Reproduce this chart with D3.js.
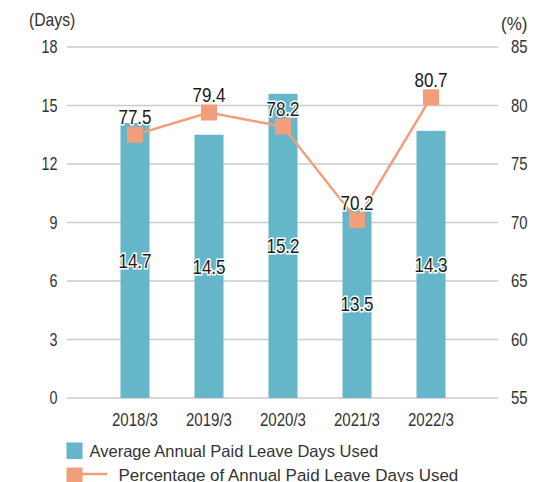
<!DOCTYPE html>
<html>
<head>
<meta charset="utf-8">
<script src="https://cdn.jsdelivr.net/npm/d3@7"></script>
<style>
body { margin: 0; background: #fff; }
text { font-family: "Liberation Sans", Arial, sans-serif; }
</style>
</head>
<body>
<div id="chart"></div>
<script>
// data
var categories = ["2018/3", "2019/3", "2020/3", "2021/3", "2022/3"];
var barHeights = [14.1, 13.5, 15.6, 9.7, 13.7];      // bar heights as drawn
var barLabels = ["14.7", "14.5", "15.2", "13.5", "14.3"]; // values printed on bars
var pctValues = [77.5, 79.4, 78.2, 70.2, 80.7];
var leftTicks = [0, 3, 6, 9, 12, 15, 18];
var rightTicks = [55, 60, 65, 70, 75, 80, 85];
var legendLabels = ["Average Annual Paid Leave Days Used", "Percentage of Annual Paid Leave Days Used"];

var W = 560, H = 482;
var barColor = "#65b6c9", lineColor = "#f29e7b", gridColor = "#cbcbcb";

var svg = d3.select("#chart").append("svg")
	.attr("width", W)
	.attr("height", H);

var x = d3.scalePoint().domain(categories).range([98, 468]).padding(0.5);
var yL = d3.scaleLinear().domain([0, 18]).range([398, 47]);
var yR = d3.scaleLinear().domain([55, 85]).range([398, 47]);

// squeeze text horizontally (the original uses a condensed face)
function squeeze(sel, sx, fx) {
	sel.attr("transform", "scale(" + sx + ",1)")
		.attr("x", function(d, i) { return fx(d, i) / sx; });
}

// grid lines
svg.selectAll(".grid")
	.data(leftTicks)
	.enter()
	.append("line")
		.attr("x1", 67)
		.attr("x2", 498)
		.attr("y1", function(d) { return yL(d); })
		.attr("y2", function(d) { return yL(d); })
		.attr("stroke", gridColor)
		.attr("stroke-width", 1.6);

// left axis labels
svg.selectAll(".lt")
	.data(leftTicks)
	.enter()
	.append("text")
		.attr("y", function(d) { return yL(d) + 6.5; })
		.attr("text-anchor", "end")
		.attr("font-size", 17.5)
		.attr("fill", "#333")
		.text(function(d) { return d; })
		.call(squeeze, 0.82, function() { return 57.5; });

// right axis labels
svg.selectAll(".rt")
	.data(rightTicks)
	.enter()
	.append("text")
		.attr("y", function(d) { return yR(d) + 6.5; })
		.attr("font-size", 17.5)
		.attr("fill", "#333")
		.text(function(d) { return d; })
		.call(squeeze, 0.85, function() { return 511; });

svg.append("text").attr("y", 26).attr("font-size", 17.5).attr("fill", "#333").text("(Days)")
	.call(squeeze, 0.9, function() { return 29; });
svg.append("text").attr("y", 30).attr("font-size", 17.5).attr("fill", "#333").text("(%)")
	.call(squeeze, 0.97, function() { return 501; });

// category labels
svg.selectAll(".xl")
	.data(categories)
	.enter()
	.append("text")
		.attr("y", 426.5)
		.attr("text-anchor", "middle")
		.attr("font-size", 17.5)
		.attr("fill", "#333")
		.text(function(d) { return d; })
		.call(squeeze, 0.86, function(d) { return x(d); });

// bars
var bw = 29;
svg.selectAll(".bar")
	.data(barHeights)
	.enter()
	.append("rect")
		.attr("x", function(d, i) { return x(categories[i]) - bw / 2; })
		.attr("y", function(d) { return yL(d); })
		.attr("width", bw)
		.attr("height", function(d) { return yL(0) - yL(d); })
		.attr("fill", barColor);

// line
var line = d3.line()
	.x(function(d, i) { return x(categories[i]); })
	.y(function(d) { return yR(d); });

svg.append("path")
	.datum(pctValues)
	.attr("d", line)
	.attr("fill", "none")
	.attr("stroke", lineColor)
	.attr("stroke-width", 2.5);

var ms = 16;
svg.selectAll(".marker")
	.data(pctValues)
	.enter()
	.append("rect")
		.attr("x", function(d, i) { return x(categories[i]) - ms / 2; })
		.attr("y", function(d) { return yR(d) - ms / 2; })
		.attr("width", ms)
		.attr("height", ms)
		.attr("fill", lineColor);

// labels inside bars
svg.selectAll(".bl")
	.data(barLabels)
	.enter()
	.append("text")
		.attr("y", function(d, i) { return (yL(0) + yL(barHeights[i])) / 2 + 7.5; })
		.attr("text-anchor", "middle")
		.attr("font-size", 20.5)
		.attr("fill", "#1a1a1a")
		.attr("stroke", "#fff")
		.attr("stroke-width", 3)
		.attr("paint-order", "stroke")
		.text(function(d) { return d; })
		.call(squeeze, 0.83, function(d, i) { return x(categories[i]); });

// labels above markers
svg.selectAll(".pl")
	.data(pctValues)
	.enter()
	.append("text")
		.attr("y", function(d) { return yR(d) - 10.5; })
		.attr("text-anchor", "middle")
		.attr("font-size", 20.5)
		.attr("fill", "#1a1a1a")
		.attr("stroke", "#fff")
		.attr("stroke-width", 3)
		.attr("paint-order", "stroke")
		.text(function(d) { return d.toFixed(1); })
		.call(squeeze, 0.83, function(d, i) { return x(categories[i]); });

// legend
svg.append("rect").attr("x", 66.5).attr("y", 442.5).attr("width", 16).attr("height", 16.5).attr("fill", barColor);
svg.append("text").attr("y", 457).attr("font-size", 16.5).attr("fill", "#333").text(legendLabels[0])
	.call(squeeze, 1.0, function() { return 89.5; });
svg.append("line").attr("x1", 75).attr("x2", 107).attr("y1", 474).attr("y2", 474)
	.attr("stroke", lineColor).attr("stroke-width", 2.5);
svg.append("rect").attr("x", 66.5).attr("y", 467.5).attr("width", 16).attr("height", 16.5).attr("fill", lineColor);
svg.append("text").attr("y", 481.5).attr("font-size", 16.5).attr("fill", "#333").text(legendLabels[1])
	.call(squeeze, 1.03, function() { return 118.5; });
</script>
</body>
</html>
